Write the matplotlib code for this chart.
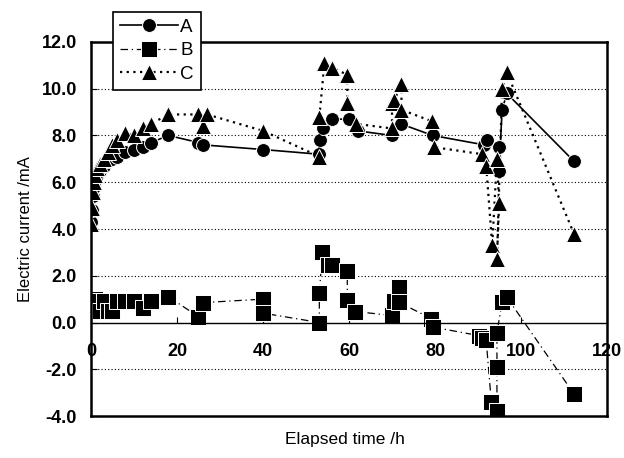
import matplotlib
matplotlib.use('Agg')
import matplotlib.pyplot as plt

plt.rcParams['font.family'] = ['Liberation Sans', 'DejaVu Sans']

# series A (circles, solid)
a_time = [0, 0.25, 0.5, 0.75, 1, 1.5, 2, 3, 4, 5, 6, 8, 10, 12, 14, 18, 25, 26, 40,
          53, 53.3, 54, 56, 60, 62, 70, 72, 79.5, 91.4, 92.1, 94.9, 94.9, 95.6, 96.7, 112.3]
a_curr = [4.3, 4.8, 5.4, 5.8, 6.1, 6.3, 6.5, 6.7, 6.9, 7.0, 7.1, 7.3, 7.4, 7.5, 7.7, 8.0, 7.7, 7.6, 7.4,
          7.2, 7.8, 8.3, 8.7, 8.7, 8.2, 8.0, 8.5, 8.0, 7.6, 7.8, 7.5, 6.5, 9.1, 9.8, 6.9]

# series B (squares, dash-dot)
b_time = [0, 0.25, 0.5, 0.75, 1, 1.5, 2, 3, 4, 5, 6, 8, 10, 12, 14, 18, 25, 26, 40, 40,
          53.1, 53.1, 53.8, 55, 56.1, 59.6, 59.6, 61.5, 70, 70.5, 71.7, 71.7, 79.1, 79.6,
          90.2, 91, 91.9, 93.1, 94.4, 94.4, 94.4, 95.6, 96.7, 112.3]
b_curr = [1.0, 0.8, 1.0, 0.7, 1.0, 0.9, 0.5, 0.9, 0.5, 0.5, 0.9, 0.9, 0.9, 0.6, 0.9, 1.1, 0.25, 0.85, 1.0, 0.4,
          0.0, 1.25, 3.0, 2.45, 2.45, 2.2, 0.95, 0.47, 0.3, 0.9, 1.5, 0.86, 0.17, -0.2,
          -0.56, -0.65, -0.77, -3.4, -3.8, -1.9, -0.43, 0.86, 1.08, -3.05]

# series C (triangles, dotted)
c_time = [0, 0.25, 0.5, 0.75, 1, 1.5, 2, 3, 4, 5, 6, 8, 10, 12, 14, 18, 25, 26, 27, 40,
          53.1, 53.1, 54.3, 56.1, 59.6, 59.6, 61.7, 70, 70, 70.5, 72.2, 72.2, 79.4, 79.8,
          91, 91.9, 93.3, 94.4, 94.9, 94.4, 95.6, 96.7, 112.3]
c_curr = [4.2, 4.9, 5.6, 6.0, 6.3, 6.6, 6.8, 7.0, 7.3, 7.6, 7.8, 8.1, 8.0, 8.3, 8.5, 8.9, 8.9, 8.4, 8.9, 8.2,
          7.1, 8.8, 11.1, 10.9, 10.6, 9.4, 8.5, 8.3, 9.4, 9.5, 10.2, 9.1, 8.6, 7.5,
          7.2, 6.7, 3.3, 7.0, 5.1, 2.7, 10.0, 10.7, 3.8]

fig = plt.figure(figsize=(6.24, 4.58), dpi=100)
ax = fig.add_axes([0.1458, 0.0917, 0.827, 0.8166])

mk = dict(color='black', markeredgecolor='white', markeredgewidth=0.7)
ax.plot(a_time, a_curr, '-', marker='o', markersize=10, lw=1.2, label='A', **mk)
ax.plot(b_time, b_curr, linestyle=(0, (6, 3, 1, 3)), marker='s', markersize=11, lw=0.9, label='B', **mk)
ax.plot(c_time, c_curr, linestyle=(0, (1, 2)), marker='^', markersize=11, lw=1.6, label='C', **mk)

ax.set_xlim(0, 120)
ax.set_ylim(-4, 12)
ax.set_xticks(range(0, 121, 20))
ax.set_yticks(range(-4, 13, 2))
ax.set_yticklabels([f'{v:.1f}' for v in range(-4, 13, 2)])

for v in range(-2, 13, 2):
    if v != 0:
        ax.axhline(v, color='black', lw=0.8, linestyle=(0, (1, 2)), zorder=0)

ax.spines['bottom'].set_position(('data', 0))
ax.spines['bottom'].set_linewidth(1.0)
for s in ['left', 'right', 'top']:
    ax.spines[s].set_linewidth(1.8)
ax.axhline(-4, color='black', lw=1.8, clip_on=False)

ax.tick_params(axis='x', direction='in', length=4, pad=15, labelsize=13)
ax.tick_params(axis='y', direction='in', length=4, pad=10, labelsize=13)
for lbl in ax.get_xticklabels() + ax.get_yticklabels():
    lbl.set_fontweight('bold')

ax.set_ylabel('Electric current /mA', fontsize=12, labelpad=6)
fig.text(0.553, 0.04, 'Elapsed time /h', fontsize=12.5, ha='center', va='center')

leg = fig.legend(loc='upper left', bbox_to_anchor=(0.181, 0.974), borderaxespad=0, fontsize=13.5,
                 frameon=True, fancybox=False, edgecolor='black', framealpha=1,
                 handlelength=3.1, borderpad=0.35, labelspacing=0.35, handletextpad=0.15)
leg.get_frame().set_linewidth(1.2)

fig.savefig('out.png', dpi=100)
